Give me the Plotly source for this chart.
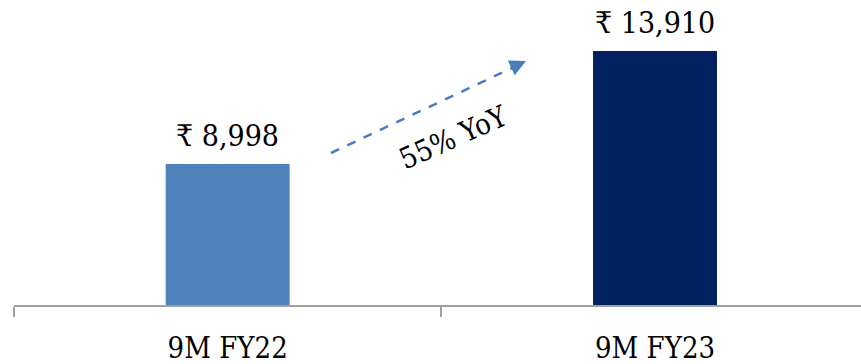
import plotly.graph_objects as go

# Revenue for the nine-month periods (₹)
periods = ["9M FY22", "9M FY23"]
revenue = [8998, 13910]
bar_colors = ["#4F81BD", "#002060"]
growth_label = "55% YoY"

FONT = "DejaVu Serif Condensed, Liberation Serif, serif"

fig = go.Figure()
fig.add_trace(go.Bar(
    x=periods,
    y=revenue,
    marker=dict(color=bar_colors, line=dict(width=0)),
    width=0.29,
    hoverinfo="skip",
))

# value labels sitting above each bar
for p, v in zip(periods, revenue):
    fig.add_annotation(x=p, y=v, xref="x", yref="y", text=f"₹ {v:,}",
                       showarrow=False, yanchor="bottom", yshift=9,
                       font=dict(family=FONT, size=30, color="#000000"))

W, H = 861, 364
L, T, B = 14, 0, 59
plot_w = W - L
plot_h = H - T - B

def px(x, y):
    """Pixel position inside the page -> paper coordinates."""
    return (x - L) / plot_w, (H - B - y) / plot_h

# dashed growth arrow between the bars
x0, y0 = px(331, 153)
x1, y1 = px(512, 68)
fig.add_shape(type="line", xref="paper", yref="paper",
              x0=x0, y0=y0, x1=x1, y1=y1,
              line=dict(color="#4A7EBB", width=2.5, dash="dash"))
tx, ty = px(526, 61)
fig.add_annotation(xref="paper", yref="paper", x=tx, y=ty, ax=-16, ay=7.5,
                   axref="pixel", ayref="pixel", text="", showarrow=True,
                   arrowhead=2, arrowsize=1.3, arrowwidth=2.5,
                   arrowcolor="#4A7EBB", standoff=0)
lx, ly = px(454, 137)
fig.add_annotation(xref="paper", yref="paper", x=lx, y=ly, text=growth_label,
                   showarrow=False, textangle=-24,
                   font=dict(family=FONT, size=29, color="#000000"))

fig.update_layout(
    width=W, height=H,
    margin=dict(l=L, r=0, t=T, b=B),
    paper_bgcolor="white", plot_bgcolor="white",
    showlegend=False,
    xaxis=dict(
        type="category",
        range=[-0.5, 1.482],
        tickson="boundaries",
        ticks="outside", ticklen=10, tickwidth=2, tickcolor="#A0A0A0",
        showline=True, linecolor="#A0A0A0", linewidth=2,
        showgrid=False, zeroline=False,
        tickfont=dict(family=FONT, size=29, color="#000000"),
        ticklabelstandoff=16,
        fixedrange=True,
    ),
    yaxis=dict(
        range=[2870, 16127],
        visible=False, showgrid=False, zeroline=False, fixedrange=True,
    ),
)

fig.write_html("out.html")
